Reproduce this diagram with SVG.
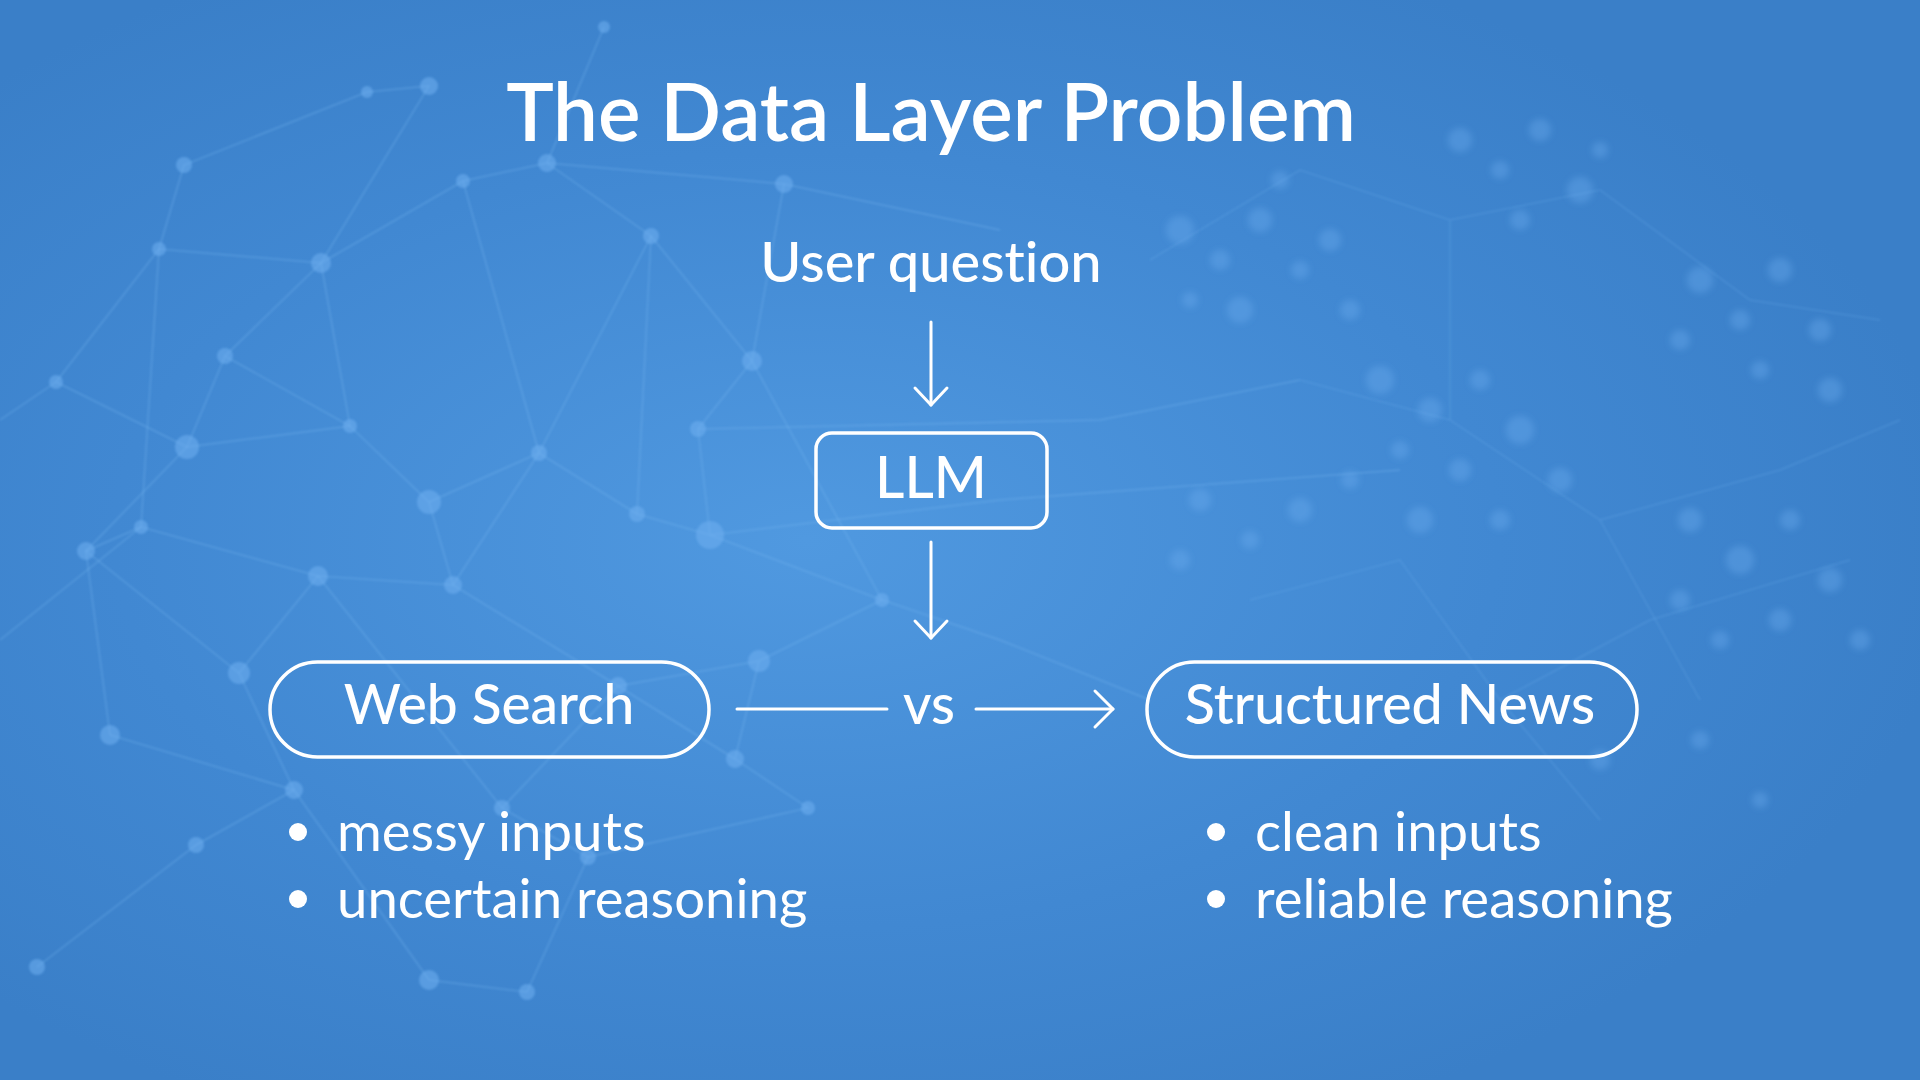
<svg xmlns="http://www.w3.org/2000/svg" width="1920" height="1080" viewBox="0 0 1920 1080">
<defs>
<radialGradient id="bgGlow" cx="0.42" cy="0.5" r="0.6">
<stop offset="0" stop-color="#5099e0"/>
<stop offset="0.6" stop-color="#4188d2"/>
<stop offset="1" stop-color="#3a7fc8"/>
</radialGradient>
<filter id="blur3" x="-50%" y="-50%" width="200%" height="200%"><feGaussianBlur stdDeviation="3"/></filter>
<filter id="blur1" x="-50%" y="-50%" width="200%" height="200%"><feGaussianBlur stdDeviation="1.2"/></filter>
<style>
.t{font-family:Lato,"Noto Sans","Liberation Sans",sans-serif;fill:#ffffff;font-variant-ligatures:none;font-feature-settings:"liga" 0,"clig" 0,"dlig" 0;}
.title{font-size:80px;font-weight:600;text-anchor:middle;}
.lbl{font-size:55px;font-weight:500;text-anchor:middle;}
.item{font-size:54.5px;font-weight:400;}
.box{fill:none;stroke:#ffffff;stroke-width:3.5;}
.conn{fill:none;stroke:#ffffff;stroke-width:3;stroke-linecap:round;stroke-linejoin:round;}
.net{stroke:#78b6f0;stroke-opacity:0.35;stroke-width:1.5;fill:none;}
.net2{stroke:#78b6f0;stroke-opacity:0.22;stroke-width:1.5;fill:none;}
.dot{fill:#6eaff0;fill-opacity:0.55;}
.cl{fill:#6fb0f2;fill-opacity:0.35;}
</style>
</defs>
<rect width="1920" height="1080" fill="url(#bgGlow)"/>
<g id="background">
<g class="net" filter="url(#blur1)">
<path d="M604,27 L547,163 L463,181 L321,263 L159,249 L56,382 L187,447 L225,356 L350,426 L429,502 L539,453 L651,236 L547,163"/>
<path d="M321,263 L350,426 L187,447 L86,551 L239,673 L318,576 L453,585 L429,502"/>
<path d="M651,236 L752,361 L698,429 L710,535 L637,514 L539,453 L453,585 L618,686 L759,661 L882,600 L710,535"/>
<path d="M784,184 L752,361 L882,600 L1000,640 L1150,700"/>
<path d="M225,356 L321,263 L429,86 L367,92 L184,165 L159,249 L141,527 L86,551 L110,735 L294,790 L239,673"/>
<path d="M294,790 L196,845 L37,967 M294,790 L429,980 L527,992 L588,857 L502,808 L318,576"/>
<path d="M502,808 L618,686 L735,759 L808,808 L588,857 M735,759 L759,661"/>
<path d="M463,181 L539,453 M651,236 L637,514 M0,640 L141,527 L318,576 M56,382 L0,420"/>
<path d="M698,429 L1100,420 L1300,380 M710,535 L1000,500 L1400,470 M547,163 L784,184 L1000,230"/>
</g>
<g class="net2" filter="url(#blur1)">
<path d="M1150,260 L1300,170 L1450,220 L1600,190 L1750,300 L1880,320 M1300,380 L1450,420 L1600,520 L1700,700 M1450,220 L1450,420"/>
<path d="M1500,700 L1650,620 L1850,560 M1600,520 L1780,470 L1900,420 M1250,600 L1400,560 L1500,700 L1600,820"/>
</g>
<g class="dot" filter="url(#blur1)">
<circle cx="604" cy="27" r="6"/><circle cx="547" cy="163" r="9"/><circle cx="463" cy="181" r="7"/>
<circle cx="321" cy="263" r="10"/><circle cx="159" cy="249" r="7"/><circle cx="187" cy="447" r="12"/>
<circle cx="225" cy="356" r="8"/><circle cx="56" cy="382" r="7"/><circle cx="429" cy="502" r="12"/>
<circle cx="350" cy="426" r="7"/><circle cx="710" cy="535" r="14"/><circle cx="651" cy="236" r="8"/>
<circle cx="752" cy="361" r="10"/><circle cx="539" cy="453" r="8"/><circle cx="86" cy="551" r="9"/>
<circle cx="239" cy="673" r="11"/><circle cx="453" cy="585" r="9"/><circle cx="110" cy="735" r="10"/>
<circle cx="294" cy="790" r="9"/><circle cx="196" cy="845" r="8"/><circle cx="527" cy="992" r="8"/>
<circle cx="429" cy="980" r="10"/><circle cx="784" cy="184" r="9"/><circle cx="698" cy="429" r="8"/>
<circle cx="618" cy="686" r="9"/><circle cx="759" cy="661" r="11"/><circle cx="882" cy="600" r="7"/>
<circle cx="367" cy="92" r="6"/><circle cx="429" cy="86" r="9"/><circle cx="184" cy="165" r="8"/>
<circle cx="141" cy="527" r="7"/><circle cx="318" cy="576" r="10"/><circle cx="637" cy="514" r="8"/>
<circle cx="735" cy="759" r="9"/><circle cx="502" cy="808" r="8"/><circle cx="37" cy="967" r="8"/>
<circle cx="588" cy="857" r="8"/><circle cx="808" cy="808" r="7"/>
</g>
<g class="cl" filter="url(#blur3)">
<circle cx="1180" cy="230" r="14"/><circle cx="1220" cy="260" r="10"/><circle cx="1260" cy="220" r="12"/><circle cx="1300" cy="270" r="9"/><circle cx="1240" cy="310" r="13"/><circle cx="1190" cy="300" r="8"/><circle cx="1330" cy="240" r="11"/><circle cx="1280" cy="180" r="9"/><circle cx="1350" cy="310" r="10"/>
<circle cx="1460" cy="140" r="12"/><circle cx="1500" cy="170" r="9"/><circle cx="1540" cy="130" r="11"/><circle cx="1580" cy="190" r="13"/><circle cx="1520" cy="220" r="10"/><circle cx="1600" cy="150" r="8"/>
<circle cx="1700" cy="280" r="13"/><circle cx="1740" cy="320" r="10"/><circle cx="1780" cy="270" r="12"/><circle cx="1820" cy="330" r="11"/><circle cx="1760" cy="370" r="9"/><circle cx="1680" cy="340" r="10"/><circle cx="1830" cy="390" r="12"/>
<circle cx="1380" cy="380" r="14"/><circle cx="1430" cy="410" r="12"/><circle cx="1480" cy="380" r="10"/><circle cx="1520" cy="430" r="14"/><circle cx="1460" cy="470" r="11"/><circle cx="1400" cy="450" r="9"/><circle cx="1560" cy="480" r="12"/><circle cx="1500" cy="520" r="10"/><circle cx="1420" cy="520" r="13"/><circle cx="1350" cy="480" r="9"/>
<circle cx="1200" cy="500" r="11"/><circle cx="1250" cy="540" r="9"/><circle cx="1300" cy="510" r="12"/><circle cx="1180" cy="560" r="10"/>
<circle cx="1690" cy="520" r="12"/><circle cx="1740" cy="560" r="14"/><circle cx="1790" cy="520" r="10"/><circle cx="1830" cy="580" r="12"/><circle cx="1780" cy="620" r="11"/><circle cx="1720" cy="640" r="9"/><circle cx="1860" cy="640" r="10"/><circle cx="1680" cy="600" r="10"/>
<circle cx="1600" cy="760" r="10"/><circle cx="1700" cy="740" r="9"/><circle cx="1760" cy="800" r="8"/>
</g>
</g>
<text class="t title" x="931" y="141">The Data Layer Problem</text>
<g id="user-question">
<text class="t lbl" x="931" y="282" style="font-size:56px">User question</text>
</g>
<g id="llm">
<rect class="box" x="816" y="433" width="231" height="95" rx="16"/>
<text class="t lbl" x="931" y="498" style="font-size:57px">LLM</text>
</g>
<g id="web-search">
<rect class="box" x="270" y="662" width="439" height="95" rx="47.5"/>
<text class="t lbl" x="489" y="724">Web Search</text>
</g>
<g id="structured-news">
<rect class="box" x="1147" y="662" width="490" height="95" rx="47.5"/>
<text class="t lbl" x="1390" y="724" style="font-size:55.5px">Structured News</text>
</g>
<g id="web-search-items">
<circle cx="298" cy="832" r="9" fill="#ffffff"/>
<circle cx="298" cy="899" r="9" fill="#ffffff"/>
<text class="t item" x="337" y="851">messy inputs</text>
<text class="t item" x="337" y="918">uncertain reasoning</text>
</g>
<g id="structured-news-items">
<circle cx="1216" cy="832" r="9" fill="#ffffff"/>
<circle cx="1216" cy="899" r="9" fill="#ffffff"/>
<text class="t item" x="1255" y="851">clean inputs</text>
<text class="t item" x="1255" y="918">reliable reasoning</text>
</g>
<g id="connectors">
<line class="conn" x1="931" y1="322" x2="931" y2="405"/>
<polyline class="conn" points="915,388 931,405 947,388"/>
<line class="conn" x1="931" y1="542" x2="931" y2="638"/>
<polyline class="conn" points="915,621 931,638 947,621"/>
<line class="conn" x1="737" y1="709" x2="887" y2="709"/>
<text class="t lbl" x="929" y="724">vs</text>
<line class="conn" x1="976" y1="709" x2="1113" y2="709"/>
<polyline class="conn" points="1095,691 1113,709 1095,727"/>
</g>
</svg>
